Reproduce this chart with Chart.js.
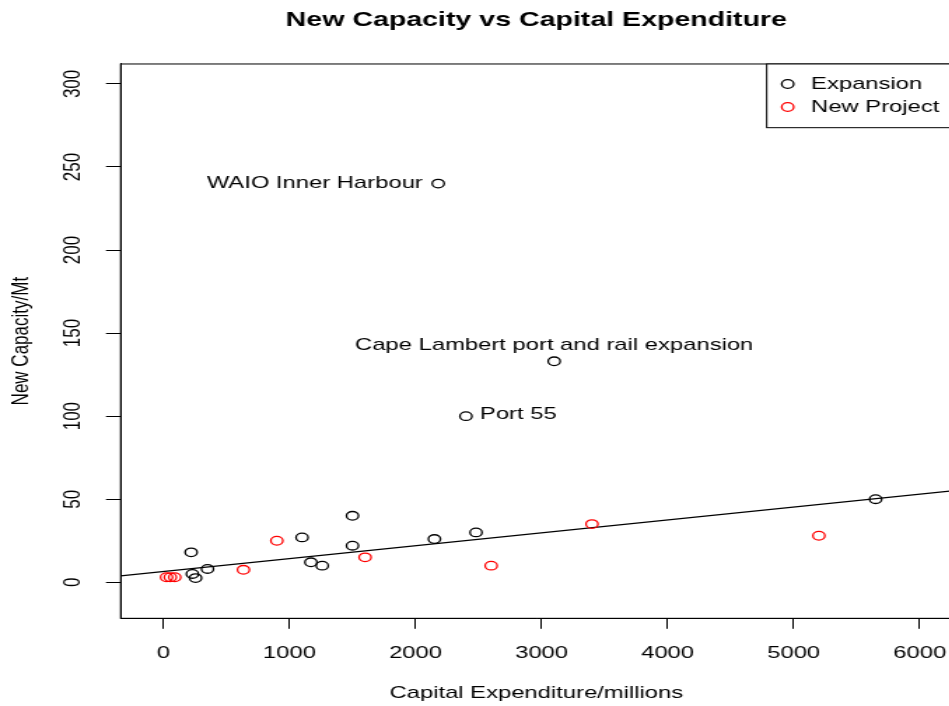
<!DOCTYPE html>
<html>
<head>
<meta charset="utf-8">
<title>New Capacity vs Capital Expenditure</title>
<script src="https://cdn.jsdelivr.net/npm/chart.js@4.4.1/dist/chart.umd.min.js"></script>
<style>
  html, body { margin: 0; padding: 0; background: #fff; overflow: hidden; width: 949px; height: 706px; }
  /* the figure is drawn on a narrower canvas and widened to the page width */
  #wrap { width: 686px; height: 706px; transform: scaleX(1.4); transform-origin: 0 0; }
  canvas { display: block; }
</style>
</head>
<body>
<div id="wrap"><canvas id="chart" width="686" height="706"></canvas></div>
<script>
// Capital expenditure (millions) and new capacity (Mt) per project
const expansionX = [220, 230, 255, 350, 1100, 1170, 1260, 1500, 1500, 2150, 2480, 5650, 2180, 3100, 2400];
const expansionY = [18, 5, 2.5, 8, 27, 12, 10, 40, 22, 26, 30, 50, 240, 133, 100];
const newProjectX = [25, 55, 90, 635, 900, 1600, 2600, 3400, 5200];
const newProjectY = [3, 3, 3, 7.5, 25, 15, 10, 35, 28];

// Named projects
const annotNames = ['WAIO Inner Harbour', 'Cape Lambert port and rail expansion', 'Port 55'];
const annotX = [2180, 3100, 2400];
const annotY = [240, 133, 100];
const annotPos = ['left', 'above', 'right'];

// Axis limits and ticks
const xMin = -339, xMax = 6256;
const yMin = -21.7, yMax = 312;
const xTicks = [0, 1000, 2000, 3000, 4000, 5000, 6000];
const xTickLabels = ['0', '1000', '2000', '3000', '4000', '5000', '6000'];
const yTicks = [0, 50, 100, 150, 200, 250, 300];
const yTickLabels = ['0', '50', '100', '150', '200', '250', '300'];

// Fitted trend line, end points at the axis limits
const trendX = [xMin, xMax];
const trendY = [3.8, 55.0];

const FONT = "'Liberation Sans', Arial, Helvetica, sans-serif";
Chart.defaults.font.family = FONT;
Chart.defaults.font.size = 17;
Chart.defaults.color = '#000';

const toPoints = (xs, ys) => xs.map((x, i) => ({ x: x, y: ys[i] }));

// Centre the main title over the plot region rather than the canvas
const titleCentering = {
  id: 'titleCentering',
  afterLayout(chart) {
    const t = chart.titleBlock, a = chart.chartArea;
    if (t && a) {
      t.left = a.left;
      t.right = a.right;
      t.width = a.right - a.left;
    }
  }
};

// Plot frame
const framePlugin = {
  id: 'frame',
  afterDraw(chart) {
    const { ctx, chartArea: a } = chart;
    ctx.save();
    ctx.strokeStyle = '#000';
    ctx.lineWidth = 1;
    ctx.strokeRect(a.left, a.top, a.right - a.left, a.bottom - a.top);
    ctx.restore();
  }
};

// Text labels beside the named projects
const annotPlugin = {
  id: 'annotations',
  afterDatasetsDraw(chart) {
    const { ctx } = chart;
    const xs = chart.scales.x, ys = chart.scales.y;
    ctx.save();
    ctx.font = '17px ' + FONT;
    ctx.fillStyle = '#000';
    ctx.textBaseline = 'middle';
    annotNames.forEach((name, i) => {
      const px = xs.getPixelForValue(annotX[i]);
      const py = ys.getPixelForValue(annotY[i]);
      if (annotPos[i] === 'left') {
        ctx.textAlign = 'right';
        ctx.fillText(name, px - 11, py);
      } else if (annotPos[i] === 'right') {
        ctx.textAlign = 'left';
        ctx.fillText(name, px + 10, py - 2);
      } else {
        ctx.textAlign = 'center';
        ctx.fillText(name, px, py - 16.5);
      }
    });
    ctx.restore();
  }
};

// Boxed legend in the top right corner
const legendPlugin = {
  id: 'boxLegend',
  afterDraw(chart) {
    const { ctx, chartArea: a } = chart;
    const items = chart.data.datasets.filter(d => d.inLegend);
    ctx.save();
    ctx.font = '17px ' + FONT;
    const maxW = Math.max(...items.map(d => ctx.measureText(d.label).width));
    const right = a.right;
    const textX = right - 9 - maxW;
    const symX = textX - 16.7;
    const left = symX - 15;
    const top = a.top;
    const bottom = top + 63.7;
    ctx.fillStyle = '#fff';
    ctx.fillRect(left, top, right - left, bottom - top);
    ctx.strokeStyle = '#000';
    ctx.lineWidth = 1;
    ctx.strokeRect(left, top, right - left, bottom - top);
    ctx.textAlign = 'left';
    ctx.textBaseline = 'middle';
    items.forEach((d, i) => {
      const y = top + 20 + i * 23;
      ctx.beginPath();
      ctx.arc(symX, y, 4.3, 0, Math.PI * 2);
      ctx.strokeStyle = d.borderColor;
      ctx.lineWidth = 1.3;
      ctx.stroke();
      ctx.fillStyle = '#000';
      ctx.fillText(d.label, textX, y);
    });
    ctx.restore();
  }
};

const pointStyle = {
  type: 'scatter',
  backgroundColor: 'rgba(0,0,0,0)',
  pointStyle: 'circle',
  pointRadius: 4.3,
  pointHoverRadius: 4.3,
  pointBorderWidth: 1.3,
  inLegend: true
};

const noEdgePadding = s => {
  s.paddingLeft = 0; s.paddingRight = 0; s.paddingTop = 0; s.paddingBottom = 0;
};

new Chart(document.getElementById('chart'), {
  type: 'scatter',
  data: {
    datasets: [
      Object.assign({}, pointStyle, {
        label: 'Expansion',
        data: toPoints(expansionX, expansionY),
        borderColor: '#000000'
      }),
      Object.assign({}, pointStyle, {
        label: 'New Project',
        data: toPoints(newProjectX, newProjectY),
        borderColor: '#ff0000'
      }),
      {
        label: 'Trend',
        type: 'line',
        data: toPoints(trendX, trendY),
        showLine: true,
        borderColor: '#000',
        borderWidth: 1.2,
        pointRadius: 0,
        fill: false,
        tension: 0,
        inLegend: false
      }
    ]
  },
  options: {
    responsive: false,
    animation: false,
    events: [],
    layout: { padding: { left: 0, right: 6, top: 0, bottom: 0 } },
    plugins: {
      legend: { display: false },
      tooltip: { enabled: false },
      title: {
        display: true,
        text: 'New Capacity vs Capital Expenditure',
        color: '#000',
        font: { size: 20.4, weight: 'bold' },
        padding: { top: 8.5, bottom: 31 }
      }
    },
    scales: {
      x: {
        type: 'linear',
        min: xMin,
        max: xMax,
        afterBuildTicks: s => { s.ticks = xTicks.map(v => ({ value: v })); },
        afterFit: s => { s.height = 87.7; noEdgePadding(s); },
        grid: { display: true, drawOnChartArea: false, drawTicks: true, tickLength: 10.5, color: '#000', lineWidth: 1 },
        border: { display: true, color: '#000', width: 1 },
        ticks: {
          padding: 14.5, autoSkip: false, minRotation: 0, maxRotation: 0, color: '#000',
          callback: (v, i) => xTickLabels[i]
        },
        title: { display: true, text: 'Capital Expenditure/millions', color: '#000', padding: { top: 0, bottom: 2 } }
      },
      y: {
        type: 'linear',
        min: yMin,
        max: yMax,
        afterBuildTicks: s => { s.ticks = yTicks.map(v => ({ value: v })); },
        afterFit: s => { s.width = 86.2; noEdgePadding(s); },
        grid: { display: true, drawOnChartArea: false, drawTicks: true, tickLength: 10.5, color: '#000', lineWidth: 1 },
        border: { display: true, color: '#000', width: 1 },
        ticks: {
          padding: 9, autoSkip: false, minRotation: 90, maxRotation: 90, crossAlign: 'center', color: '#000',
          callback: (v, i) => yTickLabels[i]
        },
        title: { display: true, text: 'New Capacity/Mt', color: '#000', padding: { top: 5.3, bottom: 0 } }
      }
    }
  },
  plugins: [titleCentering, framePlugin, annotPlugin, legendPlugin]
});
</script>
</body>
</html>
